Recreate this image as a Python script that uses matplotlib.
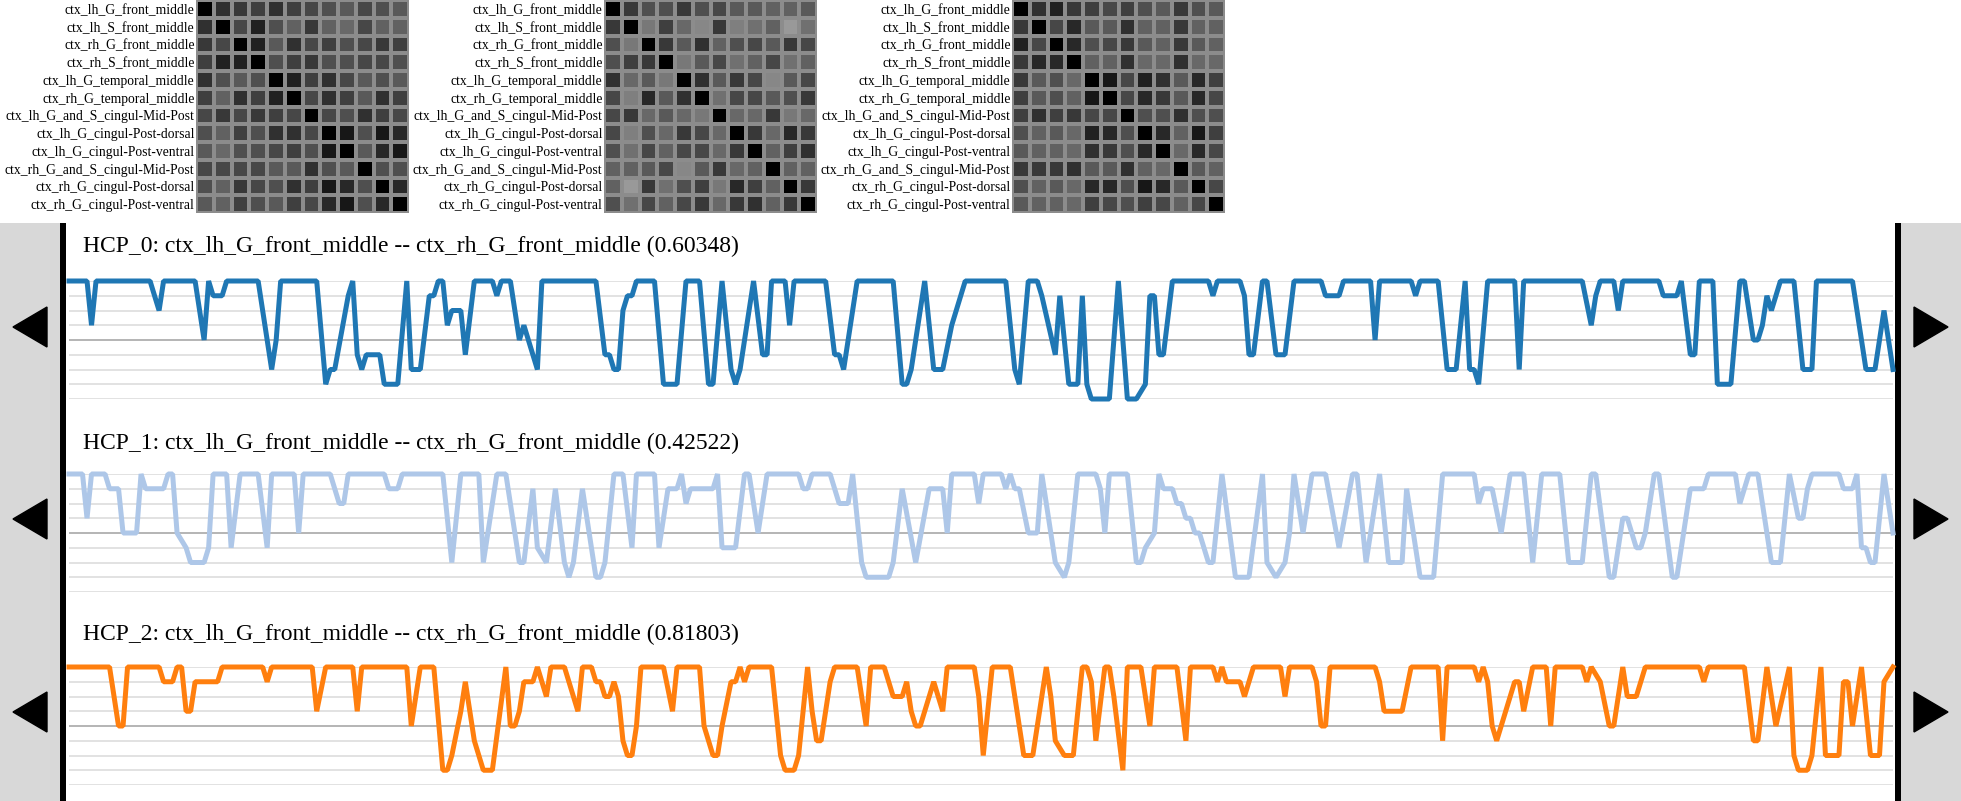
import matplotlib
matplotlib.use("Agg")
import matplotlib.pyplot as plt
from matplotlib.patches import Rectangle, Polygon
import numpy as np

# ---- data ----
regions = ["ctx_lh_G_front_middle", "ctx_lh_S_front_middle", "ctx_rh_G_front_middle",
           "ctx_rh_S_front_middle", "ctx_lh_G_temporal_middle", "ctx_rh_G_temporal_middle",
           "ctx_lh_G_and_S_cingul-Mid-Post", "ctx_lh_G_cingul-Post-dorsal",
           "ctx_lh_G_cingul-Post-ventral", "ctx_rh_G_and_S_cingul-Mid-Post",
           "ctx_rh_G_cingul-Post-dorsal", "ctx_rh_G_cingul-Post-ventral"]

corr_hcp0 = [
    [1.00, 0.81, 0.78, 0.75, 0.81, 0.75, 0.72, 0.69, 0.65, 0.72, 0.69, 0.65],
    [0.81, 1.00, 0.72, 0.87, 0.69, 0.62, 0.78, 0.62, 0.59, 0.72, 0.62, 0.62],
    [0.78, 0.72, 1.00, 0.87, 0.65, 0.81, 0.72, 0.75, 0.69, 0.72, 0.78, 0.75],
    [0.75, 0.87, 0.87, 1.00, 0.69, 0.75, 0.78, 0.69, 0.69, 0.72, 0.72, 0.69],
    [0.81, 0.69, 0.65, 0.69, 1.00, 0.87, 0.75, 0.81, 0.72, 0.65, 0.69, 0.65],
    [0.75, 0.62, 0.81, 0.75, 0.87, 1.00, 0.72, 0.81, 0.75, 0.65, 0.81, 0.75],
    [0.72, 0.78, 0.72, 0.78, 0.75, 0.72, 1.00, 0.72, 0.69, 0.81, 0.75, 0.72],
    [0.69, 0.62, 0.75, 0.69, 0.81, 0.81, 0.72, 1.00, 0.91, 0.69, 0.91, 0.84],
    [0.65, 0.59, 0.69, 0.69, 0.72, 0.75, 0.69, 0.91, 1.00, 0.65, 0.84, 0.91],
    [0.72, 0.72, 0.72, 0.72, 0.65, 0.65, 0.81, 0.69, 0.65, 1.00, 0.69, 0.69],
    [0.69, 0.62, 0.78, 0.72, 0.69, 0.81, 0.75, 0.91, 0.84, 0.69, 1.00, 0.84],
    [0.65, 0.62, 0.75, 0.69, 0.65, 0.75, 0.72, 0.84, 0.91, 0.69, 0.84, 1.00]]

corr_hcp1 = [
    [1.00, 0.78, 0.69, 0.69, 0.78, 0.69, 0.72, 0.65, 0.65, 0.62, 0.62, 0.65],
    [0.78, 1.00, 0.53, 0.75, 0.59, 0.47, 0.78, 0.50, 0.56, 0.62, 0.40, 0.56],
    [0.69, 0.53, 1.00, 0.78, 0.65, 0.81, 0.62, 0.69, 0.72, 0.65, 0.78, 0.72],
    [0.69, 0.75, 0.78, 1.00, 0.53, 0.65, 0.72, 0.56, 0.62, 0.72, 0.56, 0.62],
    [0.81, 0.59, 0.65, 0.53, 1.00, 0.81, 0.65, 0.78, 0.72, 0.47, 0.65, 0.72],
    [0.72, 0.50, 0.84, 0.65, 0.81, 1.00, 0.56, 0.72, 0.72, 0.65, 0.69, 0.78],
    [0.72, 0.78, 0.59, 0.65, 0.59, 0.53, 1.00, 0.59, 0.59, 0.78, 0.53, 0.59],
    [0.72, 0.50, 0.69, 0.59, 0.78, 0.72, 0.59, 1.00, 0.78, 0.59, 0.84, 0.78],
    [0.69, 0.56, 0.72, 0.62, 0.72, 0.72, 0.59, 0.78, 1.00, 0.62, 0.75, 0.81],
    [0.62, 0.62, 0.65, 0.72, 0.47, 0.65, 0.78, 0.59, 0.62, 1.00, 0.62, 0.62],
    [0.62, 0.40, 0.78, 0.56, 0.69, 0.75, 0.53, 0.84, 0.75, 0.62, 1.00, 0.78],
    [0.69, 0.56, 0.72, 0.62, 0.72, 0.78, 0.59, 0.78, 0.81, 0.62, 0.78, 1.00]]

corr_hcp2 = [
    [1.00, 0.81, 0.87, 0.78, 0.75, 0.72, 0.75, 0.69, 0.65, 0.78, 0.69, 0.65],
    [0.78, 1.00, 0.72, 0.84, 0.65, 0.65, 0.81, 0.62, 0.62, 0.78, 0.62, 0.62],
    [0.87, 0.72, 1.00, 0.84, 0.69, 0.72, 0.78, 0.65, 0.62, 0.78, 0.65, 0.62],
    [0.78, 0.84, 0.84, 1.00, 0.62, 0.62, 0.81, 0.59, 0.59, 0.81, 0.59, 0.59],
    [0.78, 0.65, 0.69, 0.59, 1.00, 0.91, 0.72, 0.87, 0.81, 0.65, 0.84, 0.75],
    [0.75, 0.65, 0.69, 0.62, 0.91, 1.00, 0.72, 0.84, 0.78, 0.65, 0.84, 0.72],
    [0.75, 0.81, 0.75, 0.78, 0.72, 0.72, 1.00, 0.69, 0.69, 0.81, 0.69, 0.69],
    [0.69, 0.62, 0.65, 0.59, 0.87, 0.84, 0.69, 1.00, 0.84, 0.62, 0.91, 0.75],
    [0.65, 0.62, 0.62, 0.59, 0.81, 0.78, 0.69, 0.84, 1.00, 0.59, 0.84, 0.72],
    [0.78, 0.78, 0.78, 0.81, 0.65, 0.65, 0.81, 0.62, 0.59, 1.00, 0.65, 0.62],
    [0.69, 0.62, 0.65, 0.59, 0.84, 0.84, 0.69, 0.91, 0.84, 0.65, 1.00, 0.72],
    [0.65, 0.62, 0.62, 0.59, 0.75, 0.72, 0.69, 0.75, 0.72, 0.62, 0.72, 1.00]]

titles = ["HCP_0: ctx_lh_G_front_middle -- ctx_rh_G_front_middle (0.60348)",
          "HCP_1: ctx_lh_G_front_middle -- ctx_rh_G_front_middle (0.42522)",
          "HCP_2: ctx_lh_G_front_middle -- ctx_rh_G_front_middle (0.81803)"]
n_time = 406

# (time index, state level) at each turning point of the series
hcp0 = [(0, 8), (4, 8), (5, 5), (6, 8), (18, 8), (19, 7), (20, 6), (21, 8), (28, 8), (30, 4), (31, 8), (32, 7),
        (34, 7), (35, 8), (42, 8), (45, 2), (46, 4), (47, 8), (55, 8), (57, 1), (58, 2), (59, 2), (62, 7), (63, 8),
        (64, 3), (65, 2), (66, 3), (69, 3), (70, 1), (73, 1), (75, 8), (76, 2), (78, 2), (80, 7), (81, 7), (82, 8),
        (83, 8), (84, 5), (85, 6), (87, 6), (88, 3), (90, 8), (94, 8), (95, 7), (96, 8), (98, 8), (100, 4), (101, 5),
        (102, 4), (104, 2), (105, 8), (117, 8), (119, 3), (120, 3), (121, 2), (122, 2), (123, 6), (124, 7), (125, 7),
        (126, 8), (130, 8), (132, 1), (135, 1), (137, 8), (140, 8), (142, 1), (143, 1), (145, 8), (147, 2), (148, 1),
        (149, 2), (152, 8), (154, 3), (155, 3), (156, 8), (159, 8), (160, 5), (161, 8), (168, 8), (170, 3), (171, 3),
        (172, 2), (175, 8), (183, 8), (185, 1), (186, 1), (187, 2), (190, 8), (192, 2), (194, 2), (196, 5), (197, 6),
        (199, 8), (208, 8), (210, 2), (211, 1), (213, 8), (215, 8), (216, 7), (219, 3), (220, 7), (222, 1), (224, 1),
        (225, 7), (226, 1), (227, 0), (231, 0), (233, 8), (235, 0), (237, 0), (239, 1), (240, 7), (241, 7), (242, 3),
        (243, 3), (245, 8), (253, 8), (254, 7), (255, 8), (260, 8), (261, 7), (262, 3), (263, 3), (265, 8), (266, 8),
        (268, 3), (270, 3), (272, 8), (278, 8), (279, 7), (282, 7), (283, 8), (289, 8), (290, 4), (291, 8), (298, 8),
        (299, 7), (300, 8), (304, 8), (306, 2), (308, 2), (310, 8), (311, 2), (312, 2), (313, 1), (315, 8), (321, 8),
        (322, 2), (323, 8), (336, 8), (338, 5), (339, 7), (340, 8), (343, 8), (344, 6), (345, 8), (353, 8), (354, 7),
        (357, 7), (358, 8), (360, 3), (361, 3), (362, 8), (365, 8), (366, 1), (369, 1), (371, 8), (372, 8), (374, 4),
        (375, 4), (376, 5), (377, 7), (378, 6), (379, 7), (380, 8), (383, 8), (385, 2), (387, 2), (388, 8), (396, 8),
        (399, 2), (401, 2), (403, 6), (405, 2)]

hcp1 = [(0, 8), (3, 8), (4, 5), (5, 8), (8, 8), (9, 7), (11, 7), (12, 4), (15, 4), (16, 8), (17, 7), (21, 7),
        (22, 8), (23, 8), (24, 4), (26, 3), (27, 2), (30, 2), (31, 3), (32, 8), (35, 8), (36, 3), (38, 8), (42, 8),
        (44, 3), (45, 8), (50, 8), (51, 4), (52, 8), (58, 8), (59, 7), (60, 6), (61, 6), (62, 8), (70, 8), (71, 7),
        (73, 7), (74, 8), (83, 8), (85, 2), (87, 8), (91, 8), (92, 2), (95, 8), (97, 8), (100, 2), (101, 2), (103, 7),
        (104, 3), (106, 2), (108, 7), (110, 2), (111, 1), (112, 2), (114, 7), (117, 1), (118, 1), (119, 2), (121, 8),
        (123, 8), (125, 3), (126, 8), (130, 8), (131, 3), (133, 7), (135, 7), (136, 8), (137, 6), (138, 7), (143, 7),
        (144, 8), (145, 3), (148, 3), (150, 8), (151, 8), (153, 4), (155, 8), (162, 8), (163, 7), (164, 7), (165, 8),
        (169, 8), (170, 7), (171, 6), (173, 6), (174, 8), (175, 5), (176, 2), (177, 1), (182, 1), (183, 2), (185, 7),
        (188, 2), (191, 7), (194, 7), (195, 4), (196, 8), (201, 8), (202, 6), (203, 8), (207, 8), (208, 7), (209, 8),
        (210, 7), (211, 7), (213, 4), (215, 4), (216, 8), (219, 2), (221, 1), (222, 2), (224, 8), (228, 8), (229, 7),
        (230, 4), (231, 8), (235, 8), (237, 2), (238, 2), (239, 3), (241, 4), (242, 8), (243, 7), (245, 7), (246, 6),
        (247, 6), (248, 5), (249, 5), (250, 4), (251, 4), (252, 3), (253, 2), (254, 2), (256, 8), (259, 1), (262, 1),
        (265, 8), (266, 2), (268, 1), (270, 2), (271, 4), (272, 8), (274, 4), (276, 8), (279, 8), (282, 3), (285, 8),
        (286, 8), (288, 2), (291, 8), (293, 2), (296, 2), (297, 7), (300, 1), (303, 1), (305, 8), (312, 8), (313, 6),
        (314, 7), (316, 7), (318, 4), (320, 8), (323, 8), (325, 2), (327, 8), (331, 8), (333, 2), (336, 2), (338, 8),
        (339, 8), (342, 1), (343, 1), (345, 5), (346, 5), (348, 3), (349, 3), (350, 4), (352, 8), (353, 8), (356, 1),
        (357, 1), (360, 7), (363, 7), (364, 8), (370, 8), (371, 6), (373, 8), (375, 8), (378, 2), (380, 2), (382, 8),
        (384, 5), (385, 5), (386, 7), (387, 8), (393, 8), (394, 7), (396, 7), (397, 8), (398, 3), (399, 3), (400, 2),
        (401, 2), (403, 8), (405, 4)]

hcp2 = [(0, 8), (9, 8), (11, 4), (12, 4), (13, 8), (20, 8), (21, 7), (23, 7), (24, 8), (25, 8), (26, 5), (27, 5),
        (28, 7), (33, 7), (34, 8), (43, 8), (44, 7), (45, 8), (54, 8), (55, 5), (57, 8), (63, 8), (64, 5), (65, 8),
        (75, 8), (76, 4), (78, 8), (81, 8), (83, 1), (84, 1), (85, 2), (87, 5), (88, 7), (90, 3), (91, 2), (92, 1),
        (94, 1), (97, 8), (98, 4), (99, 4), (100, 5), (101, 7), (103, 7), (104, 8), (106, 6), (107, 8), (110, 8),
        (113, 5), (114, 8), (116, 8), (117, 7), (118, 7), (119, 6), (120, 6), (121, 7), (122, 6), (123, 3), (124, 2),
        (125, 2), (126, 4), (127, 8), (132, 8), (134, 5), (135, 8), (140, 8), (141, 4), (143, 2), (144, 2), (145, 4),
        (147, 7), (148, 7), (149, 8), (150, 7), (151, 8), (156, 8), (157, 5), (158, 2), (159, 1), (161, 1), (162, 2),
        (164, 8), (165, 5), (166, 3), (167, 3), (169, 7), (170, 8), (175, 8), (177, 4), (178, 8), (181, 8), (182, 7),
        (183, 6), (185, 6), (186, 7), (187, 5), (188, 4), (189, 4), (191, 6), (192, 7), (194, 5), (195, 8), (201, 8),
        (202, 6), (203, 2), (205, 8), (209, 8), (210, 6), (212, 2), (214, 2), (217, 8), (218, 6), (219, 3), (221, 2),
        (223, 2), (225, 8), (226, 8), (227, 7), (228, 3), (230, 8), (231, 8), (232, 6), (234, 1), (235, 8), (238, 8),
        (240, 4), (241, 8), (246, 8), (248, 3), (249, 8), (254, 8), (255, 7), (256, 8), (257, 7), (260, 7), (261, 6),
        (262, 7), (263, 8), (269, 8), (270, 6), (271, 8), (276, 8), (277, 7), (278, 4), (279, 4), (280, 8), (290, 8),
        (291, 7), (292, 5), (296, 5), (298, 8), (304, 8), (305, 3), (306, 8), (312, 8), (313, 7), (314, 8), (315, 7),
        (316, 4), (317, 3), (318, 4), (319, 5), (321, 7), (322, 7), (323, 5), (325, 8), (328, 8), (329, 4), (330, 8),
        (336, 8), (337, 7), (338, 8), (340, 7), (342, 4), (343, 4), (345, 8), (346, 6), (348, 6), (349, 7), (350, 8),
        (362, 8), (363, 7), (364, 8), (372, 8), (374, 3), (375, 3), (377, 8), (379, 4), (382, 8), (383, 2), (384, 1),
        (386, 1), (387, 2), (389, 8), (390, 2), (393, 2), (394, 7), (395, 7), (396, 4), (398, 8), (400, 2), (402, 2),
        (403, 7), (405, 8)]

series = [hcp0, hcp1, hcp2]
colors = ["#1f77b4", "#aec7e8", "#ff7f0e"]
mats = [corr_hcp0, corr_hcp1, corr_hcp2]

W, H = 1961, 801
fig = plt.figure(figsize=(W / 100, H / 100), dpi=100)
serif = "Liberation Serif"


def px_axes(x0, y0, x1, y1):
    return fig.add_axes([x0 / W, 1 - y1 / H, (x1 - x0) / W, (y1 - y0) / H])


# background decorations: side panels, dividers and arrows
bg = px_axes(0, 0, W, H)
bg.set_xlim(0, W)
bg.set_ylim(H, 0)
bg.axis("off")
bg.add_patch(Rectangle((0, 223), 60, H - 223, color="#d8d8d8", lw=0))
bg.add_patch(Rectangle((1901, 223), 60, H - 223, color="#d8d8d8", lw=0))
bg.add_patch(Rectangle((60, 223), 6, H - 223, color="black", lw=0))
bg.add_patch(Rectangle((1895, 223), 6, H - 223, color="black", lw=0))

# heatmaps
for x0, m in zip([196, 604, 1012], mats):
    ax = px_axes(x0, 0, x0 + 213, 213)
    ax.pcolormesh(np.array(m), cmap="gray_r", vmin=0, vmax=1,
                  edgecolors="#8c8c8c", linewidth=1.6)
    ax.set_xlim(0, 12)
    ax.set_ylim(12, 0)
    ax.set_xticks([])
    ax.set_yticks(np.arange(12) + 0.5)
    ax.set_yticklabels(regions, fontsize=9.8, family=serif)
    ax.tick_params(length=0, pad=1)
    for s in ax.spines.values():
        s.set_visible(False)

# time series panels
tops = [281, 474, 667]
title_y = [246, 443, 634]
arrow_y = [327, 519, 712]
for i in range(3):
    ax = px_axes(69, tops[i], 1893, tops[i] + 118)
    ax.set_xlim(0, n_time - 1)
    ax.set_ylim(0, 8)
    for lv in range(9):
        ax.axhline(lv, color="#b4b4b4" if lv == 4 else "#e2e2e2", lw=1.4, zorder=1)
    t, v = zip(*series[i])
    ax.plot(t, v, color=colors[i], lw=3.6, clip_on=False, zorder=3,
            solid_joinstyle="bevel")
    ax.axis("off")
    fig.text(83 / W, 1 - title_y[i] / H, titles[i], fontsize=17, family=serif,
             va="center", ha="left")
    c = arrow_y[i]
    bg.add_patch(Polygon([(13, c), (47, c - 20), (47, c + 20)], closed=True, color="black"))
    bg.add_patch(Polygon([(1948, c), (1914, c - 20), (1914, c + 20)], closed=True, color="black"))

fig.savefig("out.png", dpi=100)
